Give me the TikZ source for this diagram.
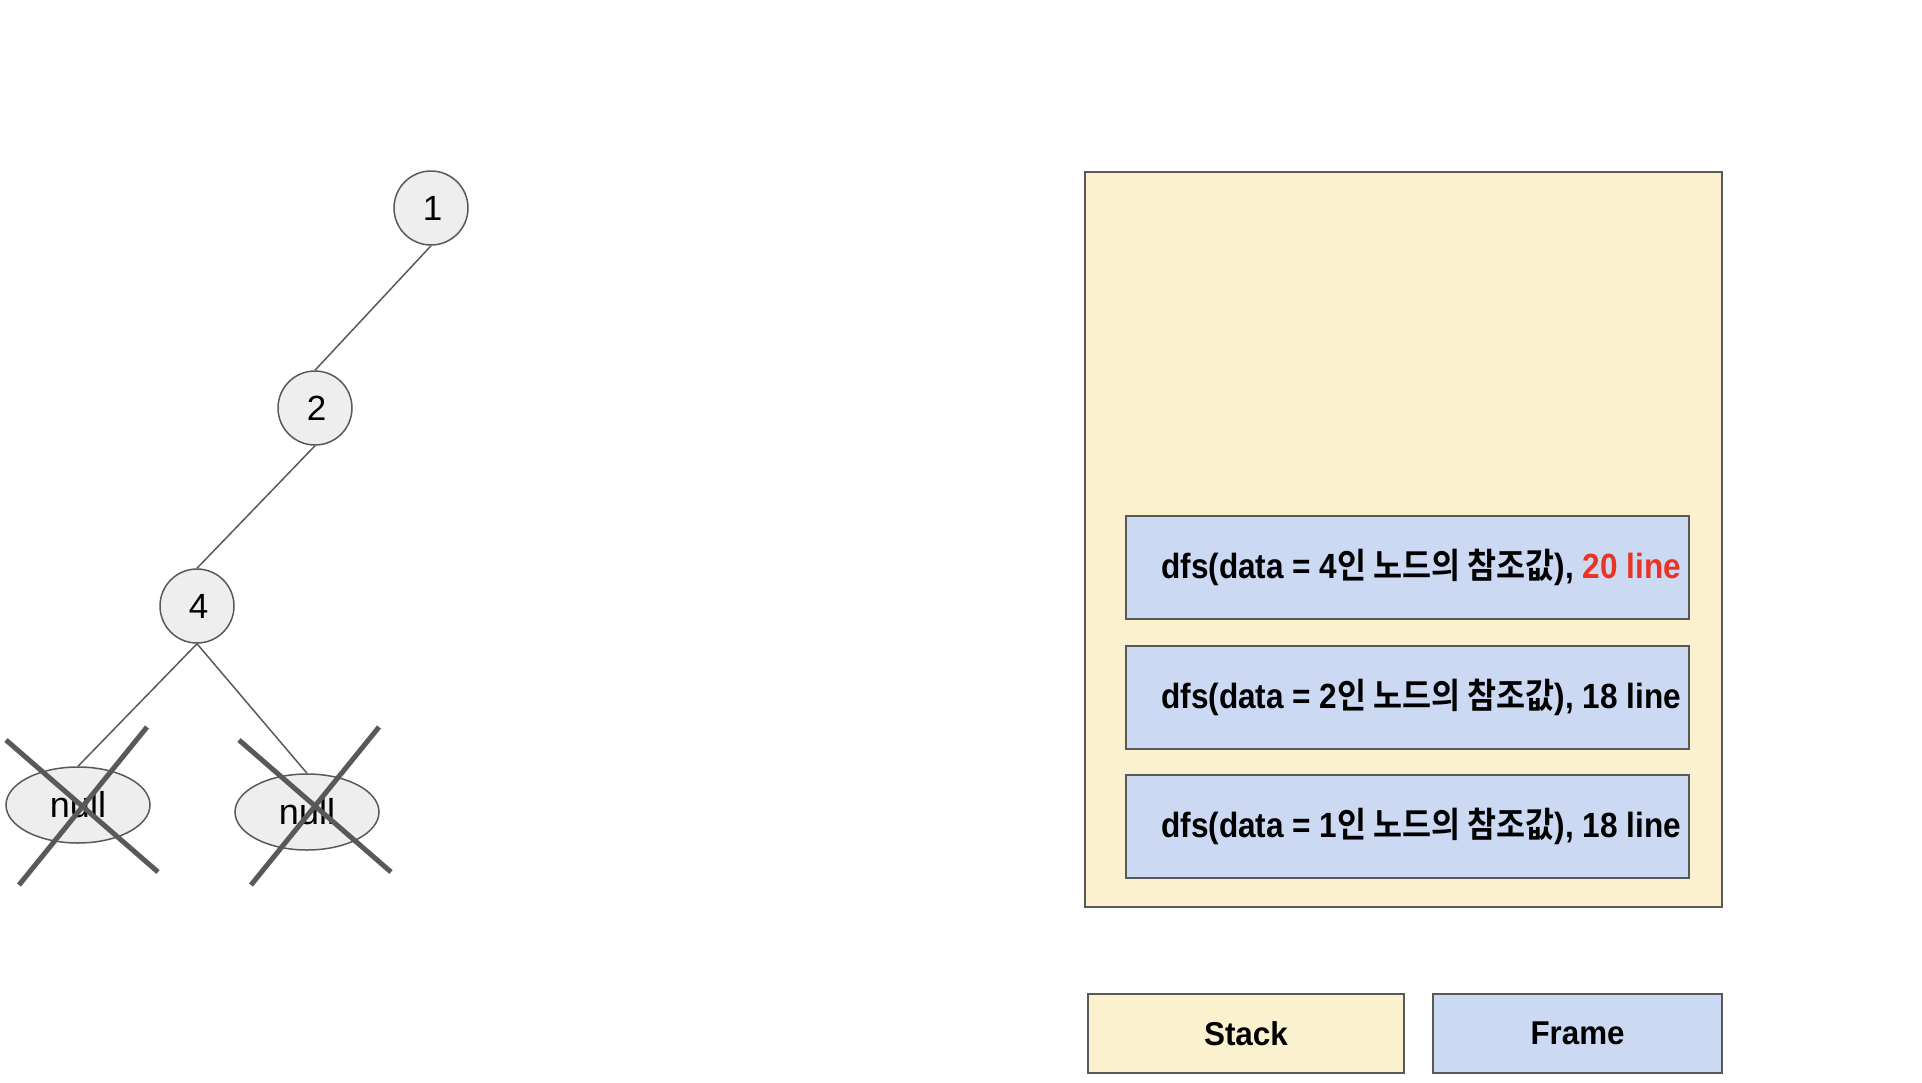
\documentclass[tikz,border=0pt]{standalone}
\usepackage{fontspec}
\usepackage{graphicx}
\setmainfont{Liberation Sans}
\newfontfamily\kr{Noto Sans CJK KR}[BoldFont=* Bold]
\usetikzlibrary{shapes.geometric}
\definecolor{edgec}{HTML}{595959}
\definecolor{nodefill}{HTML}{EEEEEE}
\definecolor{stackfill}{HTML}{FCF1CF}
\definecolor{framefill}{HTML}{CBD9F3}
\definecolor{hot}{HTML}{EA3323}
\tikzset{
  tnode/.style={circle, draw=edgec, fill=nodefill, line width=1.5pt, minimum size=74pt, inner sep=0pt, font=\fontsize{35}{40}\selectfont},
  nullnode/.style={ellipse, draw=edgec, fill=nodefill, line width=1.5pt, minimum width=144pt, minimum height=76pt, inner sep=0pt, font=\fontsize{36}{40}\selectfont},
  link/.style={draw=edgec, line width=1.5pt},
  crossline/.style={draw=edgec, line width=5pt},
  stackbox/.style={rectangle, draw=edgec, fill=stackfill, line width=2pt, inner sep=0pt},
  framebox/.style={rectangle, draw=edgec, fill=framefill, line width=2pt, inner sep=0pt},
  frametext/.style={anchor=west, inner sep=0pt, font=\fontsize{35}{40}\selectfont\bfseries},
  legendtext/.style={font=\fontsize{33}{40}\selectfont\bfseries}
}
\newcommand{\frametxt}[1]{\resizebox{520pt}{\height}{#1}}
\newcommand{\squeeze}[2]{\resizebox{#1}{\height}{#2}}
\begin{document}
\begin{tikzpicture}[x=1pt,y=-1pt]
\useasboundingbox (0,0) rectangle (1922,1082);
% tree
\node[tnode] (n1) at (431,208) {\hspace*{3pt}1};
\node[tnode] (n2) at (315,408) {\hspace*{3pt}2};
\node[tnode] (n4) at (197,606) {\hspace*{3pt}4};
\node[nullnode] (nl) at (78,805) {null};
\node[nullnode] (nr) at (307,812) {null};
\draw[link] (n1.south) -- (n2.north);
\draw[link] (n2.south) -- (n4.north);
\draw[link] (n4.south) -- (nl.north);
\draw[link] (n4.south) -- (nr.north);
% crosses
\coordinate (la1) at (6,740);   \coordinate (la2) at (158,872);
\coordinate (lb1) at (147,727); \coordinate (lb2) at (19,885);
\coordinate (ra1) at (239,740); \coordinate (ra2) at (391,872);
\coordinate (rb1) at (379,727); \coordinate (rb2) at (251,885);
\draw[crossline] (la1) -- (la2);
\draw[crossline] (lb1) -- (lb2);
\draw[crossline] (ra1) -- (ra2);
\draw[crossline] (rb1) -- (rb2);
% stack
\node[stackbox, minimum width=637pt, minimum height=735pt] (stack) at (1403.5,539.5) {};
\node[framebox, minimum width=563pt, minimum height=103pt] (f1) at (1407.5,567.5) {};
\node[framebox, minimum width=563pt, minimum height=103pt] (f2) at (1407.5,697) {};
\node[framebox, minimum width=563pt, minimum height=103pt] (f3) at (1407.5,826.5) {};
\node[frametext] (t1) at ([xshift=36pt]f1.west) {\frametxt{dfs(data = 4{\kr 인 노드의 참조값}), \textcolor{hot}{20 line}}};
\node[frametext] (t2) at ([xshift=36pt]f2.west) {\frametxt{dfs(data = 2{\kr 인 노드의 참조값}), 18 line}};
\node[frametext] (t3) at ([xshift=36pt]f3.west) {\frametxt{dfs(data = 1{\kr 인 노드의 참조값}), 18 line}};
% legend
\node[stackbox, minimum width=316pt, minimum height=79pt, legendtext] (lgs) at (1246,1033.5) {\squeeze{84pt}{Stack}};
\node[framebox, minimum width=289pt, minimum height=79pt, legendtext] (lgf) at (1577.5,1033.5) {\squeeze{94pt}{Frame}};
\end{tikzpicture}
\end{document}
